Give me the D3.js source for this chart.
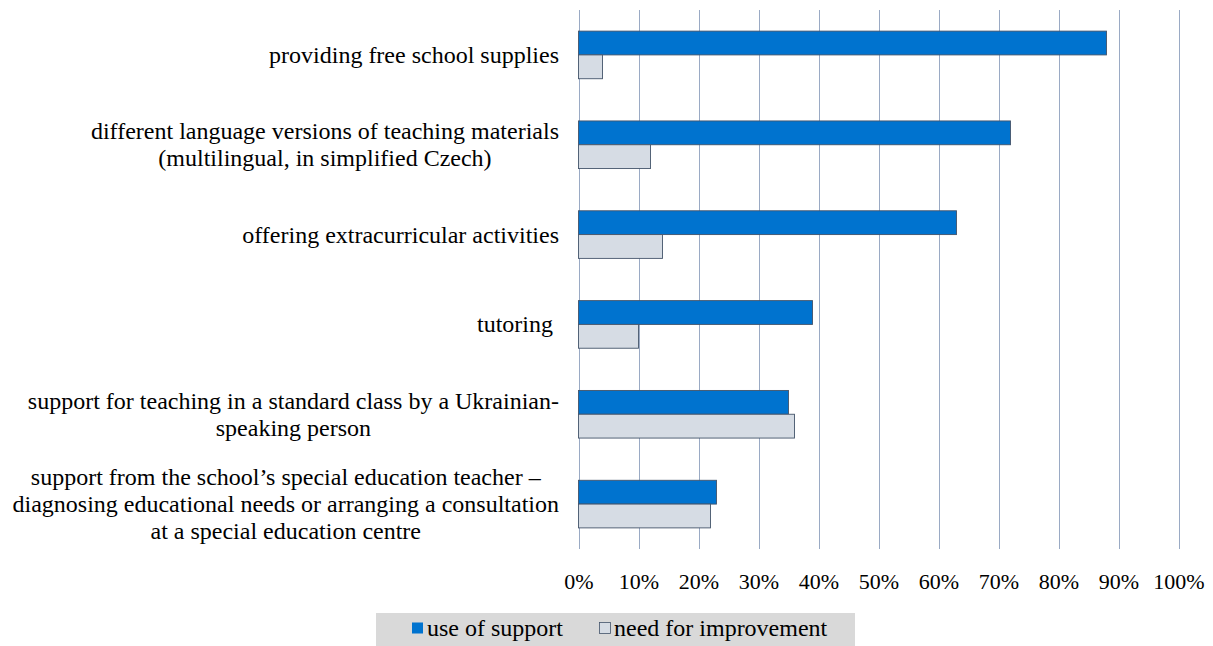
<!DOCTYPE html>
<html>
<head>
<meta charset="utf-8">
<script src="https://cdn.jsdelivr.net/npm/d3@7"></script>
<style>
  html, body { margin: 0; padding: 0; background: #fff; }
</style>
</head>
<body>
<svg id="chart" width="1213" height="646"></svg>
<script>
// Categories (each entry is a list of label lines)
const categories = [
  ["providing free school supplies"],
  ["different language versions of teaching materials", "(multilingual, in simplified Czech)"],
  ["offering extracurricular activities"],
  ["tutoring "],
  ["support for teaching in a standard class by a Ukrainian-", "speaking person"],
  ["support from the school\u2019s special education teacher \u2013", "diagnosing educational needs or arranging a consultation", "at a special education centre"]
];
const seriesNames = ["use of support", "need for improvement"];
const useOfSupport = [88, 72, 63, 39, 35, 23];
const needForImprovement = [4, 12, 14, 10, 36, 22];
const tickValues = [0, 10, 20, 30, 40, 50, 60, 70, 80, 90, 100];

const colors = ["#0073CF", "#D6DCE4"];
const barStroke = "#44546A";
const gridColor = "#9AAAC4";
const serif = "Liberation Serif";

const svg = d3.select("#chart");
const plot = { left: 578.5, right: 1178.5, top: 10, bottom: 549 };

const x = d3.scaleLinear().domain([0, 100]).range([plot.left, plot.right]);
const y = d3.scaleBand()
  .domain(d3.range(categories.length))
  .range([plot.top, plot.bottom])
  .paddingInner(0.47)
  .paddingOuter(0.235);
const ySub = d3.scaleBand().domain([0, 1]).range([0, y.bandwidth()]).padding(0);

// vertical gridlines
svg.append("g").selectAll("line")
  .data(tickValues)
  .join("line")
  .attr("x1", d => Math.round(x(d)) + 0.5)
  .attr("x2", d => Math.round(x(d)) + 0.5)
  .attr("y1", plot.top)
  .attr("y2", plot.bottom)
  .attr("stroke", gridColor)
  .attr("stroke-width", 1);

// bars
const rows = categories.map((c, i) => ({ i, vals: [useOfSupport[i], needForImprovement[i]] }));
const groups = svg.append("g").selectAll("g")
  .data(rows)
  .join("g")
  .attr("transform", d => `translate(0,${y(d.i)})`);
groups.selectAll("rect")
  .data(d => d.vals.map((v, s) => ({ v, s })))
  .join("rect")
  .attr("x", x(0))
  .attr("y", d => ySub(d.s))
  .attr("width", d => x(d.v) - x(0))
  .attr("height", ySub.bandwidth())
  .attr("fill", d => colors[d.s])
  .attr("stroke", barStroke)
  .attr("stroke-width", 0.9);

// x axis tick labels
const xAxis = d3.axisBottom(x).tickValues(tickValues).tickFormat(d => d + "%").tickSize(0).tickPadding(0);
const axG = svg.append("g").attr("transform", `translate(0,${plot.bottom})`).call(xAxis);
axG.select(".domain").remove();
axG.selectAll("text")
  .attr("y", 40)
  .attr("dy", 0)
  .style("font-family", serif)
  .style("font-size", "22px")
  .attr("fill", "#000");

// category labels: lines centred within a block whose right edge sits left of the axis
const labelRight = 559;
const lineH = 26.7;
const labG = svg.append("g");
categories.forEach((lines, i) => {
  const cy = y(i) + y.bandwidth() / 2;
  const t = labG.append("text")
    .attr("text-anchor", "middle")
    .attr("fill", "#000")
    .style("font-family", serif)
    .style("font-size", "24px")
    .style("white-space", "pre");
  const spans = lines.map((ln, k) => t.append("tspan")
    .attr("y", cy + (k - (lines.length - 1) / 2) * lineH + 8)
    .text(ln));
  const maxW = d3.max(spans, s => s.node().getComputedTextLength());
  spans.forEach(s => s.attr("x", labelRight - maxW / 2));
});

// legend
const leg = svg.append("g");
leg.append("rect")
  .attr("x", 376).attr("y", 613).attr("width", 479).attr("height", 40)
  .attr("fill", "#D9D9D9");
const legItems = [
  { name: seriesNames[0], color: colors[0], sx: 412, tx: 427 },
  { name: seriesNames[1], color: colors[1], sx: 599.5, tx: 614 }
];
legItems.forEach(it => {
  leg.append("rect")
    .attr("x", it.sx).attr("y", 622.5).attr("width", 11).attr("height", 11)
    .attr("fill", it.color)
    .attr("stroke", it.color === colors[1] ? barStroke : "none")
    .attr("stroke-width", 0.8);
  leg.append("text")
    .attr("x", it.tx).attr("y", 636)
    .attr("fill", "#000")
    .style("font-family", serif)
    .style("font-size", "24px")
    .text(it.name);
});
</script>
</body>
</html>
